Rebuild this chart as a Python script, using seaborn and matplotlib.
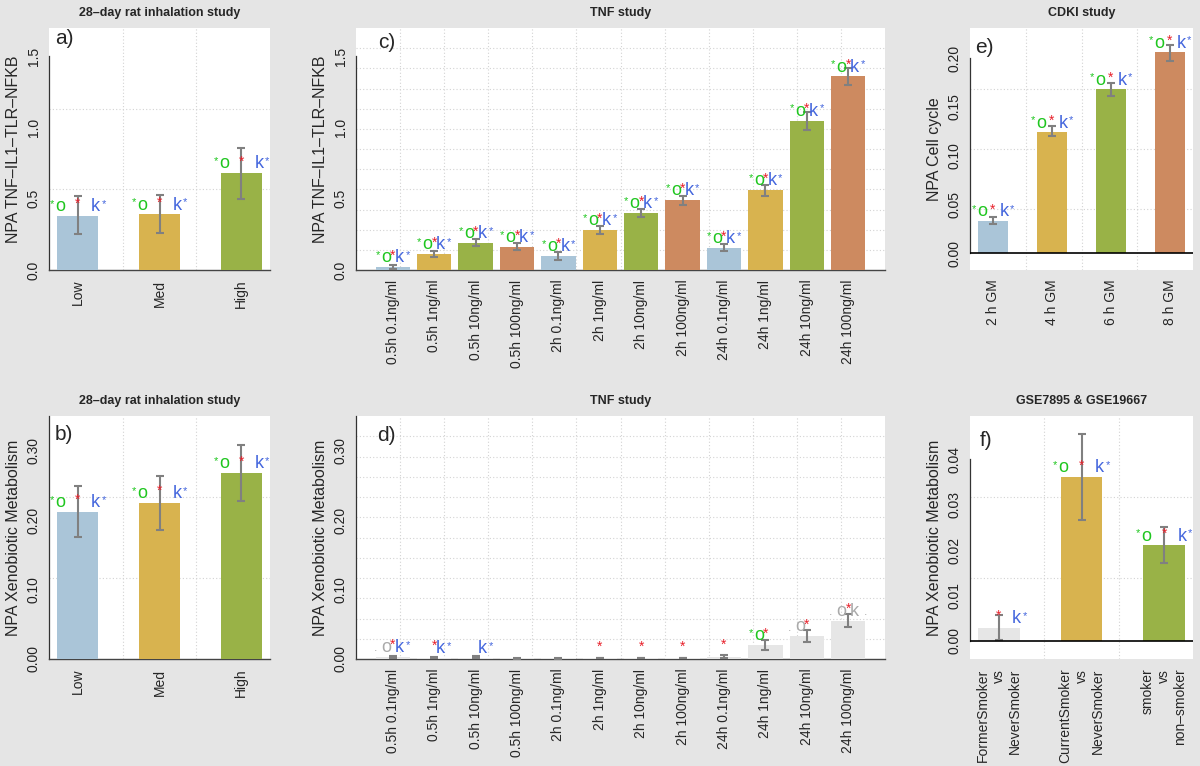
import numpy as np
import pandas as pd
import matplotlib
matplotlib.use("Agg")
import matplotlib.pyplot as plt
import seaborn as sns

# ---- data ----
rat_doses = ["Low", "Med", "High"]
rat_tnf = [0.38, 0.39, 0.68]
rat_tnf_lo = [0.25, 0.26, 0.50]
rat_tnf_hi = [0.52, 0.53, 0.86]
rat_xeno = [0.212, 0.225, 0.268]
rat_xeno_lo = [0.176, 0.186, 0.228]
rat_xeno_hi = [0.249, 0.264, 0.308]

tnf_conditions = ["0.5h 0.1ng/ml", "0.5h 1ng/ml", "0.5h 10ng/ml", "0.5h 100ng/ml",
                  "2h 0.1ng/ml", "2h 1ng/ml", "2h 10ng/ml", "2h 100ng/ml",
                  "24h 0.1ng/ml", "24h 1ng/ml", "24h 10ng/ml", "24h 100ng/ml"]
tnf_nfkb = [0.02, 0.11, 0.19, 0.16, 0.10, 0.28, 0.40, 0.49, 0.155, 0.56, 1.05, 1.36]
tnf_nfkb_lo = [0.01, 0.09, 0.17, 0.14, 0.07, 0.25, 0.37, 0.46, 0.13, 0.52, 0.98, 1.30]
tnf_nfkb_hi = [0.035, 0.13, 0.22, 0.19, 0.125, 0.31, 0.43, 0.52, 0.18, 0.60, 1.11, 1.42]
tnf_xeno = [0.003, 0.002, 0.002, 0.001, 0.001, 0.0015, 0.0015, 0.0015, 0.003, 0.020, 0.033, 0.055]
tnf_xeno_lo = [0.001, 0.001, 0.001, 0.0005, 0.0005, 0.001, 0.001, 0.001, 0.001, 0.013, 0.025, 0.046]
tnf_xeno_hi = [0.005, 0.003, 0.004, 0.0015, 0.0015, 0.002, 0.002, 0.002, 0.006, 0.027, 0.042, 0.065]

cdki_times = ["2 h GM", "4 h GM", "6 h GM", "8 h GM"]
cdki_cycle = [0.033, 0.124, 0.168, 0.206]
cdki_cycle_lo = [0.030, 0.120, 0.161, 0.197]
cdki_cycle_hi = [0.037, 0.131, 0.175, 0.214]

smoke_contrasts = ["FormerSmoker\nvs\nNeverSmoker", "CurrentSmoker\nvs\nNeverSmoker",
                   "smoker\nvs\nnon\u2013smoker"]
smoke_xeno = [0.0029, 0.036, 0.021]
smoke_xeno_lo = [0.0002, 0.0266, 0.0171]
smoke_xeno_hi = [0.0057, 0.0455, 0.0251]

# significance marks: "s" significant, "n" not significant, "" none
rat_o, rat_red, rat_k = ["s"] * 3, [1] * 3, ["s"] * 3
tnf_nfkb_o, tnf_nfkb_red, tnf_nfkb_k = ["s"] * 12, [1] * 12, ["s"] * 12
tnf_xeno_o = ["n", "", "", "", "", "", "", "", "", "s", "n", "n"]
tnf_xeno_red = [1, 1, 0, 0, 0, 1, 1, 1, 1, 1, 1, 1]
tnf_xeno_k = ["s", "s", "s", "", "", "", "", "", "", "", "", "n"]
cdki_o, cdki_red, cdki_k = ["s"] * 4, [1] * 4, ["s"] * 4
smoke_o, smoke_red, smoke_k = ["", "s", "s"], [1, 1, 1], ["s", "s", "s"]

# ---- style ----
BLUE, GOLD, GREEN_BAR, ORANGE, LGRAY = "#aac5d8", "#d8b34f", "#99b247", "#cd8a60", "#e6e6e6"
TXT_GREEN, TXT_RED, TXT_BLUE, TXT_NS = "#1fc61f", "#e8202a", "#4466dd", "#aaaaaa"

sns.set_style("white")
plt.rcParams["font.family"] = ["Liberation Sans", "DejaVu Sans"]

fig = plt.figure(figsize=(12, 7.66), dpi=100, facecolor="#e5e5e5")


def marks(ax, i, v, o, red, k, spread):
    if o:
        c = TXT_GREEN if o == "s" else TXT_NS
        if o == "s":
            ax.annotate("*", (i, v), xytext=(-spread - 6, 6.5), textcoords="offset points",
                        ha="center", va="baseline", fontsize=8, color=c, zorder=6)
        else:
            ax.annotate(".", (i, v), xytext=(-spread - 8, 4), textcoords="offset points",
                        ha="center", va="baseline", fontsize=9, color=c, zorder=6)
        ax.annotate("o", (i, v), xytext=(-spread, 3.5), textcoords="offset points",
                    ha="center", va="baseline", fontsize=13, color=c, zorder=6)
    if red:
        ax.annotate("*", (i, v), xytext=(0, 5.5), textcoords="offset points",
                    ha="center", va="baseline", fontsize=10, color=TXT_RED, zorder=7)
    if k:
        c = TXT_BLUE if k == "s" else TXT_NS
        ax.annotate("k", (i, v), xytext=(spread, 3.5), textcoords="offset points",
                    ha="center", va="baseline", fontsize=13, color=c, zorder=6)
        if k == "s":
            ax.annotate("*", (i, v), xytext=(spread + 6, 6.5), textcoords="offset points",
                        ha="center", va="baseline", fontsize=8, color=c, zorder=6)
        else:
            ax.annotate(".", (i, v), xytext=(spread + 8, 4), textcoords="offset points",
                        ha="center", va="baseline", fontsize=9, color=c, zorder=6)


def panel(rect, labels, vals, lo, hi, colors, o, red, k, ylim, yticks, ytlabels,
          ylabel, title, tag, tagpos, spread, width=0.5, zero_line=False):
    ax = fig.add_axes(rect)
    ax.set_facecolor("white")
    n = len(labels)
    df = pd.DataFrame({"label": labels, "value": vals})
    sns.barplot(data=df, x="label", y="value", hue="label", palette=colors, legend=False,
                width=width, saturation=1, linewidth=0, errorbar=None, zorder=3, ax=ax)
    vals, lo, hi = np.array(vals), np.array(lo), np.array(hi)
    ax.errorbar(np.arange(n), vals, yerr=[vals - lo, hi - vals], fmt="none",
                ecolor="#808080", elinewidth=1.5, capsize=3.2, capthick=1.5, zorder=4)
    pad = 0.04 * (n - 1 + width)
    ax.set_xlim(-width / 2 - pad, n - 1 + width / 2 + pad)
    ax.set_ylim(*ylim)
    # R-style grid(nx = n, ny = n)
    x0, x1 = ax.get_xlim()
    y0, y1 = ax.get_ylim()
    for j in range(1, n):
        ax.axvline(x0 + j * (x1 - x0) / n, color="#d3d3d3", lw=0.8, ls=(0, (1, 2)), zorder=0.5)
        ax.axhline(y0 + j * (y1 - y0) / n, color="#d3d3d3", lw=0.8, ls=(0, (1, 2)), zorder=0.5)
    for i in range(n):
        marks(ax, i, vals[i], o[i], red[i], k[i], spread)

    ax.set_xticks(np.arange(n), labels, rotation=90, va="top", ha="center",
                  multialignment="right")
    ax.set_yticks(yticks, ytlabels, rotation=90, va="center")
    ax.tick_params(axis="x", length=0, pad=7, labelsize=10)
    ax.tick_params(axis="y", length=4, width=0.9, pad=2, labelsize=10, colors="#222222")
    ax.set_xlabel("")
    ax.set_ylabel(ylabel, fontsize=11.5, labelpad=4)
    ax.set_title(title, fontsize=9, fontweight="bold", pad=8.5)
    for s in ["top", "right"]:
        ax.spines[s].set_visible(False)
    ax.spines["left"].set_bounds(yticks[0], yticks[-1])
    ax.spines["left"].set_color("#333333")
    ax.spines["left"].set_linewidth(0.9)
    if zero_line:
        ax.spines["bottom"].set_visible(False)
        ax.axhline(0, color="black", lw=1.2, zorder=5)
    else:
        ax.spines["bottom"].set_color("#444444")
        ax.spines["bottom"].set_linewidth(1.0)
    ax.text(tagpos[0], tagpos[1], tag, transform=ax.transAxes, fontsize=15,
            ha="left", va="top", zorder=8)
    return ax


W, H = 1200, 766


def rect(x0, y0, x1, y1):
    return [x0 / W, (H - y1) / H, (x1 - x0) / W, (y1 - y0) / H]


tick15 = [0.0, 0.5, 1.0, 1.5]
tick15_l = ["0.0", "0.5", "1.0", "1.5"]
tick35 = [0.0, 0.05, 0.10, 0.15, 0.20, 0.25, 0.30, 0.35]
tick35_l = ["0.00", "", "0.10", "", "0.20", "", "0.30", ""]
quad = [BLUE, GOLD, GREEN_BAR, ORANGE]

panel(rect(49, 28, 270, 270), rat_doses, rat_tnf, rat_tnf_lo, rat_tnf_hi, quad[:3],
      rat_o, rat_red, rat_k, (0, 1.70), tick15, tick15_l,
      "NPA TNF\u2013IL1\u2013TLR\u2013NFKB", "28\u2013day rat inhalation study", "a)",
      (0.027, 0.995), 12.6)

panel(rect(356, 28, 885, 270), tnf_conditions, tnf_nfkb, tnf_nfkb_lo, tnf_nfkb_hi, quad * 3,
      tnf_nfkb_o, tnf_nfkb_red, tnf_nfkb_k, (0, 1.70), tick15, tick15_l,
      "NPA TNF\u2013IL1\u2013TLR\u2013NFKB", "TNF study", "c)",
      (0.042, 0.98), 4.7, width=1 / 1.2)

panel(rect(970, 28, 1193, 270), cdki_times, cdki_cycle, cdki_cycle_lo, cdki_cycle_hi, quad,
      cdki_o, cdki_red, cdki_k, (-0.017, 0.231), [0, 0.05, 0.10, 0.15, 0.20],
      ["0.00", "0.05", "0.10", "0.15", "0.20"],
      "NPA Cell cycle", "CDKI study", "e)", (0.022, 0.96), 7.9, zero_line=True)

panel(rect(49, 416, 270, 659), rat_doses, rat_xeno, rat_xeno_lo, rat_xeno_hi, quad[:3],
      rat_o, rat_red, rat_k, (0, 0.35), tick35, tick35_l,
      "NPA Xenobiotic Metabolism", "28\u2013day rat inhalation study", "b)",
      (0.027, 0.965), 12.6)

panel(rect(356, 416, 885, 659), tnf_conditions, tnf_xeno, tnf_xeno_lo, tnf_xeno_hi,
      [LGRAY] * 12, tnf_xeno_o, tnf_xeno_red, tnf_xeno_k, (0, 0.35), tick35, tick35_l,
      "NPA Xenobiotic Metabolism", "TNF study", "d)",
      (0.040, 0.96), 4.7, width=1 / 1.2)

panel(rect(970, 416, 1193, 659), smoke_contrasts, smoke_xeno, smoke_xeno_lo, smoke_xeno_hi,
      [LGRAY, GOLD, GREEN_BAR], smoke_o, smoke_red, smoke_k, (-0.004, 0.0495),
      [0, 0.01, 0.02, 0.03, 0.04], ["0.00", "0.01", "0.02", "0.03", "0.04"],
      "NPA Xenobiotic Metabolism", "GSE7895 & GSE19667", "f)", (0.045, 0.94), 12.8,
      zero_line=True)

fig.savefig("out.png", dpi=100, facecolor=fig.get_facecolor())
